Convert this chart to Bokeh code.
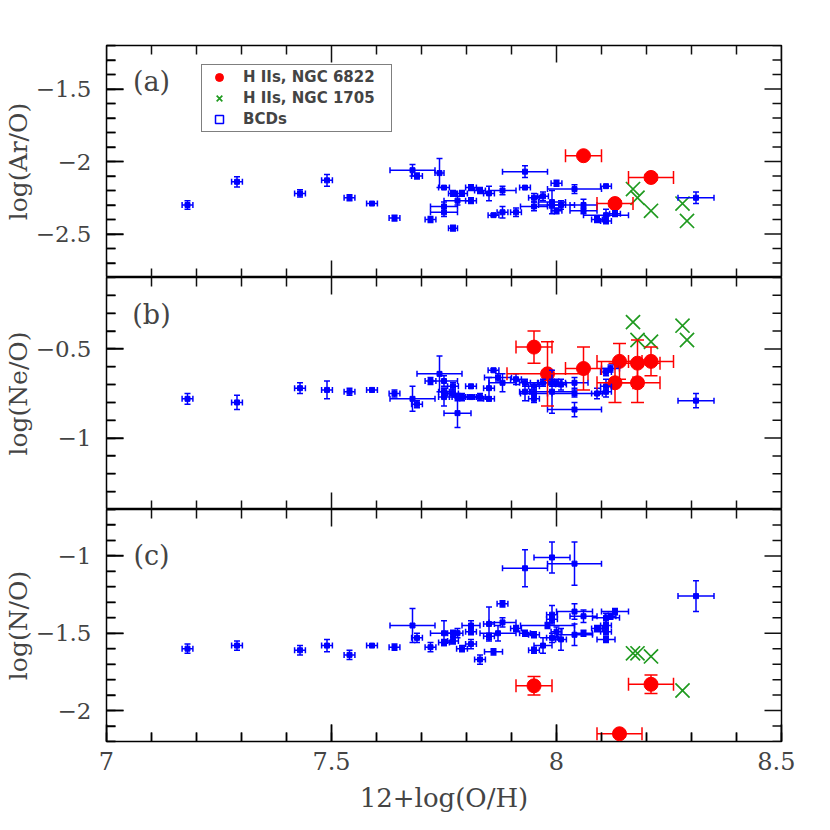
import numpy as np
from bokeh.plotting import figure
from bokeh.models import (ColumnDataSource, Whisker, TeeHead, Range1d,
                          SingleIntervalTicker, CustomJSTickFormatter, Legend, LegendItem, Label)
from bokeh.layouts import column
from bokeh.embed import file_html
from bokeh.resources import INLINE

# ---------------- data ----------------
x_label = "12+log(O/H)"
x_lim = (7.0, 8.5)
major_step = 0.5
minor_step = 0.1

# Panel (a) log(Ar/O)
ar_bcd_x = [7.18, 7.29, 7.43, 7.49, 7.54, 7.59, 7.64, 7.68, 7.69, 7.72, 7.74, 7.75, 7.75, 7.75, 7.77,
            7.77, 7.78, 7.79, 7.81, 7.81, 7.83, 7.85, 7.86, 7.88, 7.88, 7.91, 7.93, 7.93, 7.95, 7.95,
            7.97, 7.99, 7.99, 8.00, 8.00, 8.01, 8.04, 8.06, 8.06, 8.09, 8.11, 8.11, 8.11, 8.13, 8.31]
ar_bcd_y = [-2.30, -2.14, -2.22, -2.13, -2.25, -2.29, -2.39, -2.06, -2.10, -2.40, -2.08, -2.18, -2.31, -2.35, -2.22,
            -2.46, -2.27, -2.22, -2.18, -2.27, -2.20, -2.22, -2.37, -2.20, -2.35, -2.35, -2.07, -2.18, -2.25, -2.31,
            -2.24, -2.28, -2.30, -2.15, -2.34, -2.30, -2.19, -2.30, -2.34, -2.40, -2.17, -2.37, -2.41, -2.36, -2.25]
ar_bcd_xerr = [0.012, 0.012, 0.012, 0.012, 0.012, 0.012, 0.012, 0.05, 0.012, 0.012, 0.01, 0.012, 0.03, 0.03, 0.01,
               0.01, 0.03, 0.012, 0.012, 0.012, 0.012, 0.012, 0.012, 0.03, 0.012, 0.012, 0.05, 0.012, 0.012, 0.03,
               0.012, 0.03, 0.03, 0.012, 0.012, 0.03, 0.06, 0.03, 0.03, 0.012, 0.012, 0.05, 0.012, 0.012, 0.04]
ar_bcd_yerr = [0.03, 0.035, 0.025, 0.04, 0.02, 0.01, 0.02, 0.04, 0.02, 0.02, 0.10, 0.01, 0.03, 0.03, 0.02,
               0.02, 0.03, 0.02, 0.02, 0.02, 0.02, 0.05, 0.01, 0.03, 0.04, 0.03, 0.04, 0.01, 0.03, 0.03,
               0.03, 0.08, 0.02, 0.02, 0.02, 0.03, 0.03, 0.04, 0.02, 0.02, 0.01, 0.04, 0.02, 0.02, 0.04]
ar_n6822_x = [8.06, 8.21, 8.13]
ar_n6822_y = [-1.96, -2.11, -2.29]
ar_n6822_xerr = [0.04, 0.05, 0.04]
ar_n6822_yerr = [0.01, 0.02, 0.02]
ar_n1705_x = [8.17, 8.18, 8.21, 8.28, 8.29]
ar_n1705_y = [-2.19, -2.25, -2.34, -2.29, -2.41]

# Panel (b) log(Ne/O)
ne_bcd_x = [7.18, 7.29, 7.43, 7.49, 7.54, 7.59, 7.64, 7.68, 7.69, 7.72, 7.74, 7.75, 7.75, 7.75, 7.77,
            7.77, 7.78, 7.78, 7.79, 7.81, 7.81, 7.83, 7.85, 7.85, 7.86, 7.87, 7.88, 7.91, 7.93, 7.93,
            7.95, 7.95, 7.95, 7.97, 7.99, 7.99, 8.00, 8.01, 8.04, 8.04, 8.04, 8.09, 8.11, 8.11, 8.11,
            8.12, 8.31]
ne_bcd_y = [-0.78, -0.80, -0.72, -0.73, -0.74, -0.73, -0.75, -0.78, -0.81, -0.68, -0.64, -0.68, -0.74, -0.77, -0.71,
            -0.75, -0.86, -0.77, -0.77, -0.71, -0.77, -0.77, -0.72, -0.78, -0.62, -0.66, -0.69, -0.67, -0.69, -0.74,
            -0.71, -0.75, -0.78, -0.69, -0.69, -0.74, -0.69, -0.70, -0.69, -0.75, -0.84, -0.75, -0.63, -0.71, -0.74,
            -0.61, -0.79]
ne_bcd_xerr = [0.012, 0.012, 0.012, 0.012, 0.012, 0.012, 0.012, 0.05, 0.012, 0.012, 0.05, 0.03, 0.012, 0.012, 0.012,
               0.012, 0.03, 0.012, 0.012, 0.012, 0.012, 0.012, 0.012, 0.012, 0.012, 0.03, 0.03, 0.012, 0.012, 0.012,
               0.012, 0.03, 0.012, 0.012, 0.03, 0.05, 0.012, 0.012, 0.03, 0.05, 0.06, 0.012, 0.012, 0.012, 0.012,
               0.02, 0.04]
ne_bcd_yerr = [0.03, 0.04, 0.03, 0.05, 0.02, 0.01, 0.02, 0.07, 0.02, 0.02, 0.10, 0.03, 0.02, 0.05, 0.02,
               0.02, 0.08, 0.02, 0.02, 0.01, 0.01, 0.02, 0.06, 0.01, 0.01, 0.02, 0.05, 0.03, 0.02, 0.05,
               0.02, 0.02, 0.02, 0.02, 0.02, 0.12, 0.02, 0.03, 0.03, 0.02, 0.04, 0.03, 0.02, 0.04, 0.03,
               0.02, 0.04]
ne_n6822_x = [7.95, 7.98, 8.06, 8.13, 8.14, 8.18, 8.18, 8.21]
ne_n6822_y = [-0.49, -0.64, -0.61, -0.69, -0.57, -0.58, -0.69, -0.57]
ne_n6822_xerr = [0.04, 0.09, 0.04, 0.04, 0.05, 0.05, 0.05, 0.05]
ne_n6822_yerr = [0.09, 0.18, 0.12, 0.11, 0.10, 0.13, 0.11, 0.08]
ne_n1705_x = [8.17, 8.18, 8.21, 8.28, 8.29]
ne_n1705_y = [-0.35, -0.45, -0.46, -0.37, -0.45]

# Panel (c) log(N/O)
n_bcd_x = [7.18, 7.29, 7.43, 7.49, 7.54, 7.59, 7.64, 7.68, 7.69, 7.72, 7.75, 7.75, 7.77, 7.77, 7.78,
           7.79, 7.81, 7.81, 7.81, 7.83, 7.85, 7.85, 7.86, 7.87, 7.88, 7.88, 7.91, 7.93, 7.93, 7.95,
           7.95, 7.97, 7.98, 7.99, 7.99, 7.99, 7.99, 8.00, 8.01, 8.04, 8.04, 8.04, 8.06, 8.06, 8.09,
           8.11, 8.11, 8.11, 8.11, 8.12, 8.13, 8.31]
n_bcd_y = [-1.60, -1.58, -1.61, -1.58, -1.64, -1.58, -1.59, -1.45, -1.53, -1.59, -1.50, -1.56, -1.50, -1.55, -1.50,
           -1.60, -1.45, -1.49, -1.57, -1.67, -1.44, -1.52, -1.62, -1.50, -1.31, -1.43, -1.47, -1.08, -1.50, -1.51,
           -1.61, -1.58, -1.45, -1.01, -1.38, -1.41, -1.53, -1.49, -1.54, -1.05, -1.36, -1.51, -1.39, -1.50, -1.47,
           -1.40, -1.45, -1.49, -1.54, -1.39, -1.36, -1.26]
n_bcd_xerr = [0.012, 0.012, 0.012, 0.012, 0.012, 0.012, 0.012, 0.05, 0.012, 0.012, 0.03, 0.012, 0.012, 0.012, 0.012,
              0.012, 0.02, 0.012, 0.012, 0.012, 0.012, 0.012, 0.02, 0.04, 0.012, 0.03, 0.012, 0.05, 0.012, 0.012,
              0.012, 0.02, 0.06, 0.04, 0.012, 0.012, 0.012, 0.012, 0.012, 0.06, 0.04, 0.04, 0.03, 0.02, 0.012,
              0.03, 0.012, 0.012, 0.02, 0.012, 0.03, 0.04]
n_bcd_yerr = [0.03, 0.03, 0.03, 0.04, 0.03, 0.01, 0.02, 0.11, 0.03, 0.03, 0.08, 0.02, 0.02, 0.02, 0.03,
              0.02, 0.03, 0.02, 0.03, 0.03, 0.11, 0.02, 0.02, 0.05, 0.02, 0.03, 0.02, 0.12, 0.02, 0.02,
              0.02, 0.05, 0.02, 0.10, 0.06, 0.02, 0.03, 0.03, 0.07, 0.14, 0.05, 0.07, 0.04, 0.02, 0.02,
              0.03, 0.03, 0.02, 0.02, 0.02, 0.02, 0.10]
n_n6822_x = [7.95, 8.14, 8.21]
n_n6822_y = [-1.84, -2.15, -1.83]
n_n6822_xerr = [0.04, 0.05, 0.05]
n_n6822_yerr = [0.06, 0.02, 0.06]
n_n1705_x = [8.17, 8.18, 8.21, 8.28]
n_n1705_y = [-1.63, -1.63, -1.65, -1.87]

panel_tags = ["(a)", "(b)", "(c)"]
panel_ylabels = ["log(Ar/O)", "log(Ne/O)", "log(N/O)"]
panel_ylims = [(-2.8, -1.2), (-1.4, -0.1), (-2.2, -0.7)]
panel_tag_y = [-1.45, -0.31, -1.0]
legend_labels = ["H IIs, NGC 6822", "H IIs, NGC 1705", "BCDs"]

# ---------------- style ----------------
BLUE = "#0000ff"
RED = "#ff0000"
GREEN = "#1f9a1f"
SERIF = "DejaVu Serif"
FRAME_W, FRAME_H = 675, 232
MAJOR_LEN, MINOR_LEN = 17, 9

fmt_code = """
const v = Math.round(tick * 100) / 100;
const s = String(Math.abs(v));
return v < 0 ? '\u2212' + s : s;
"""

x_range = Range1d(*x_lim)


def tick_values(lo, hi, step):
    n0 = int(np.ceil(lo / step - 1e-6))
    n1 = int(np.floor(hi / step + 1e-6))
    return [round(k * step, 6) for k in range(n0, n1 + 1)]


def style_axis(ax):
    ax.ticker = SingleIntervalTicker(interval=major_step, num_minor_ticks=5)
    ax.formatter = CustomJSTickFormatter(code=fmt_code)
    ax.axis_line_color = None
    ax.major_tick_line_color = "black"
    ax.minor_tick_line_color = "black"
    ax.major_tick_line_width = 1.5
    ax.minor_tick_line_width = 1.5
    ax.major_tick_in = MAJOR_LEN
    ax.major_tick_out = 0
    ax.minor_tick_in = MINOR_LEN
    ax.minor_tick_out = 0
    ax.major_label_text_font = SERIF
    ax.major_label_text_font_size = "23px"
    ax.axis_label_text_font = SERIF
    ax.axis_label_text_font_size = "25px"
    ax.axis_label_text_font_style = "normal"


def add_frame_ticks(p, ylo, yhi):
    """Tick marks pointing into the frame on all four sides, drawn as thin filled rects."""
    dx = (x_lim[1] - x_lim[0]) / FRAME_W
    dy = (yhi - ylo) / FRAME_H
    xmaj = tick_values(x_lim[0], x_lim[1], major_step)
    ymaj = tick_values(ylo, yhi, major_step)
    xt = tick_values(x_lim[0], x_lim[1], minor_step)
    yt = tick_values(ylo, yhi, minor_step)
    tx, ty, tw, th = [], [], [], []
    for t in xt:
        L = MAJOR_LEN if any(abs(t - m) < 1e-6 for m in xmaj) else MINOR_LEN
        tx += [t, t]
        ty += [ylo + 0.5 * L * dy, yhi - 0.5 * L * dy]
        tw += [1.5, 1.5]
        th += [L, L]
    for t in yt:
        L = MAJOR_LEN if any(abs(t - m) < 1e-6 for m in ymaj) else MINOR_LEN
        tx += [x_lim[0] + 0.5 * L * dx, x_lim[1] - 0.5 * L * dx]
        ty += [t, t]
        tw += [L, L]
        th += [1.5, 1.5]
    src = ColumnDataSource(dict(x=tx, y=ty, w=tw, h=th))
    p.rect(x="x", y="y", width="w", height="h", width_units="screen", height_units="screen",
           source=src, fill_color="#111111", line_color=None)


def add_errbars(p, x, y, xe, ye, color, cap):
    src = ColumnDataSource(dict(
        x=x, y=y,
        xl=[a - e for a, e in zip(x, xe)], xu=[a + e for a, e in zip(x, xe)],
        yl=[a - e for a, e in zip(y, ye)], yu=[a + e for a, e in zip(y, ye)]))
    for dim, base, lo, hi in (("width", "y", "xl", "xu"), ("height", "x", "yl", "yu")):
        p.add_layout(Whisker(source=src, base=base, lower=lo, upper=hi, dimension=dim,
                             line_color=color, line_width=1.5, level="glyph",
                             lower_head=TeeHead(size=cap, line_color=color, line_width=1.5),
                             upper_head=TeeHead(size=cap, line_color=color, line_width=1.5)))
    return src


def make_panel(i, bx, by, bxe, bye, rx, ry, rxe, rye, gx, gy, first, last):
    ylo, yhi = panel_ylims[i]
    p = figure(x_range=x_range, y_range=Range1d(ylo, yhi),
               frame_width=FRAME_W, frame_height=FRAME_H,
               output_backend="svg", toolbar_location=None,
               min_border_left=103, min_border_right=14,
               min_border_top=45 if first else 0,
               min_border_bottom=0)
    p.background_fill_color = "white"
    p.border_fill_color = "white"
    p.outline_line_color = "black"
    p.outline_line_width = 1.5
    p.xgrid.visible = False
    p.ygrid.visible = False

    yax = p.yaxis[0]
    style_axis(yax)
    yax.axis_label = panel_ylabels[i]
    yax.axis_label_standoff = 0
    yax.major_label_standoff = 15
    yax.major_label_orientation = "horizontal"

    if last:
        xax = p.xaxis[0]
        style_axis(xax)
        xax.major_label_text_font_size = "24px"
        xax.axis_label_text_font_size = "26px"
        xax.axis_label = x_label
        xax.axis_label_standoff = 10
        xax.major_label_standoff = 10
    else:
        p.xaxis.visible = False

    add_frame_ticks(p, ylo, yhi)

    # BCDs
    bsrc = add_errbars(p, bx, by, bxe, bye, BLUE, 6)
    r_blue = p.scatter("x", "y", source=bsrc, marker="square", size=5,
                       fill_color=BLUE, line_color=BLUE)

    # NGC 6822
    rsrc = add_errbars(p, rx, ry, rxe, rye, RED, 13)
    r_red = p.scatter("x", "y", source=rsrc, marker="circle", size=14,
                      fill_color=RED, line_color=RED)

    # NGC 1705
    r_green = p.scatter(gx, gy, marker="x", size=20, line_color=GREEN, line_width=1.7)

    p.add_layout(Label(x=7.1, y=panel_tag_y[i], text=panel_tags[i], text_font=SERIF,
                       text_font_size="27px", text_align="center", text_baseline="middle"))

    if first:
        r_blue_leg = p.scatter(x=[float("nan")], y=[float("nan")], marker="square", size=5,
                               fill_color=None, line_color=BLUE, line_width=1.5)
        legend = Legend(items=[LegendItem(label=legend_labels[0], renderers=[r_red]),
                               LegendItem(label=legend_labels[1], renderers=[r_green]),
                               LegendItem(label=legend_labels[2], renderers=[r_blue_leg])],
                        location=(95, 145))
        legend.border_line_color = "black"
        legend.border_line_width = 1.5
        legend.background_fill_color = "white"
        legend.background_fill_alpha = 1
        legend.label_text_font = "DejaVu Sans"
        legend.label_text_font_style = "bold"
        legend.label_text_font_size = "15px"
        legend.glyph_width = 30
        legend.glyph_height = 20
        legend.label_height = 20
        legend.label_standoff = 9
        legend.label_width = 146
        legend.spacing = 1
        legend.padding = 2
        legend.margin = 0
        p.add_layout(legend)
    return p


pa = make_panel(0, ar_bcd_x, ar_bcd_y, ar_bcd_xerr, ar_bcd_yerr,
                ar_n6822_x, ar_n6822_y, ar_n6822_xerr, ar_n6822_yerr,
                ar_n1705_x, ar_n1705_y, True, False)
pb = make_panel(1, ne_bcd_x, ne_bcd_y, ne_bcd_xerr, ne_bcd_yerr,
                ne_n6822_x, ne_n6822_y, ne_n6822_xerr, ne_n6822_yerr,
                ne_n1705_x, ne_n1705_y, False, False)
pc = make_panel(2, n_bcd_x, n_bcd_y, n_bcd_xerr, n_bcd_yerr,
                n_n6822_x, n_n6822_y, n_n6822_xerr, n_n6822_yerr,
                n_n1705_x, n_n1705_y, False, True)

layout = column(pa, pb, pc, spacing=0)
open("out.html", "w").write(file_html(layout, INLINE))
